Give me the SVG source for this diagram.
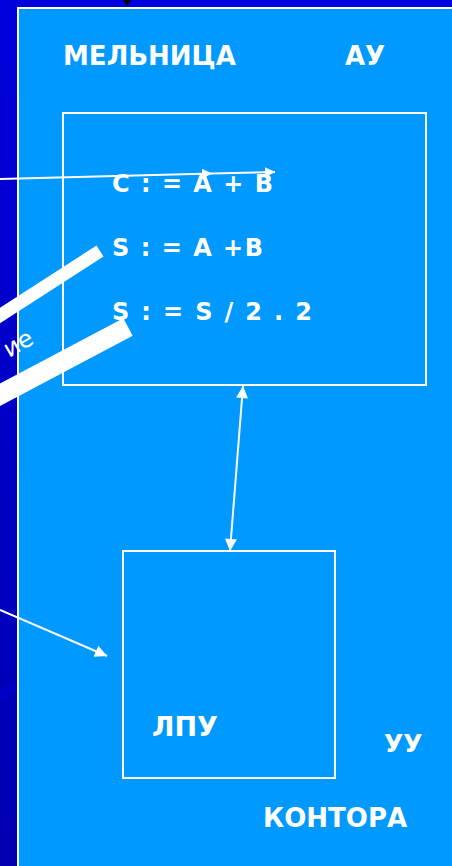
<svg xmlns="http://www.w3.org/2000/svg" width="452" height="866" viewBox="0 0 452 866">
<defs>
<linearGradient id="bg" x1="0" y1="0" x2="0" y2="1">
<stop offset="0" stop-color="#0000DC"/>
<stop offset="0.5" stop-color="#0000C6"/>
<stop offset="1" stop-color="#0000B0"/>
</linearGradient>
<marker id="ah" viewBox="0 0 10 10" refX="10" refY="5" markerWidth="10" markerHeight="10" markerUnits="userSpaceOnUse" orient="auto-start-reverse">
<path d="M0,0 L10,5 L0,10 z" fill="#fff"/>
</marker>
<marker id="ahb" viewBox="0 0 10 10" refX="10" refY="5" markerWidth="14" markerHeight="12" markerUnits="userSpaceOnUse" orient="auto-start-reverse">
<path d="M0,0 L10,5 L0,10 z" fill="#fff"/>
</marker>
</defs>
<style>
.t{font-family:"DejaVu Sans",Verdana,sans-serif;font-weight:bold;fill:#fff}
.box{fill:none;stroke:#fff;stroke-width:2}
.ln{stroke:#fff;stroke-width:2;fill:none}
</style>
<rect x="0" y="0" width="452" height="866" fill="url(#bg)"/>
<polygon points="0,690 17,680 17,690 0,702" fill="#0000D0" opacity="0.6"/>
<path d="M123,0 L131,0 L127,6 z" fill="#000"/>
<rect x="18" y="8" width="440" height="866" fill="#0099FF" stroke="#fff" stroke-width="2"/>
<g id="connectors">
<line class="ln" x1="0" y1="179" x2="212" y2="173.5" marker-end="url(#ah)"/>
<line class="ln" x1="212" y1="173.5" x2="275" y2="172" marker-end="url(#ah)"/>
<line class="ln" x1="243" y1="386" x2="230" y2="551" marker-start="url(#ahb)" marker-end="url(#ahb)"/>
<line class="ln" x1="0" y1="610" x2="107" y2="656" marker-end="url(#ahb)"/>
<line stroke="#fff" stroke-width="13" x1="-10" y1="322" x2="100" y2="251"/>
<line stroke="#fff" stroke-width="20" x1="-10" y1="400" x2="128" y2="327"/>
</g>
<g id="mill">
<text class="t" x="63" y="65" font-size="26">МЕЛЬНИЦА</text>
<text class="t" x="345" y="65" font-size="26">АУ</text>
</g>
<g id="au">
<rect class="box" x="63" y="113" width="363" height="272"/>
<text class="t" x="112" y="192" font-size="24" textLength="161" lengthAdjust="spacing">C : = A + B</text>
<text class="t" x="112" y="256" font-size="24" textLength="151" lengthAdjust="spacing">S : = A +B</text>
<text class="t" x="112" y="320" font-size="24" textLength="200" lengthAdjust="spacing">S : = S / 2 . 2</text>
</g>
<g id="lpu">
<rect class="box" x="123" y="551" width="212" height="227"/>
<text class="t" x="152" y="736" font-size="27">ЛПУ</text>
</g>
<g id="office">
<text class="t" x="384" y="752" font-size="25">УУ</text>
<text class="t" x="263" y="827" font-size="26">КОНТОРА</text>
</g>
<text x="9" y="358" font-family="DejaVu Sans,sans-serif" font-size="24" fill="#fff" transform="rotate(-30 9 358)">ие</text>
</svg>
